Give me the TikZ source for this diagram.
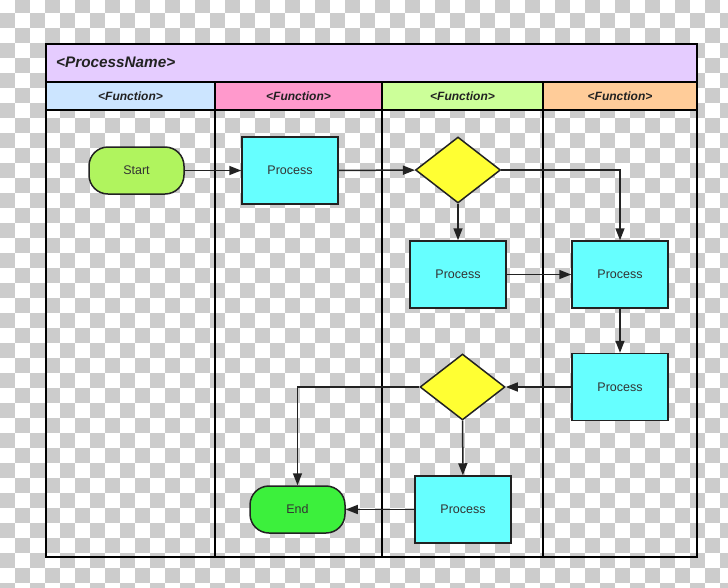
\documentclass[tikz,border=0pt]{standalone}
\usepackage{fontspec}
\setmainfont{Liberation Sans}
\usetikzlibrary{shapes.geometric,arrows.meta}
\definecolor{chk}{HTML}{CCCCCC}
\definecolor{lav}{HTML}{E5CCFF}
\definecolor{hblue}{HTML}{CCE5FF}
\definecolor{hpink}{HTML}{FF99CC}
\definecolor{hgreen}{HTML}{CCFF99}
\definecolor{hpeach}{HTML}{FFCC99}
\definecolor{startc}{HTML}{B0F45E}
\definecolor{procc}{HTML}{66FFFF}
\definecolor{decc}{HTML}{FFFF33}
\definecolor{endc}{HTML}{3CF03C}
\definecolor{ink}{HTML}{222222}
\definecolor{txt}{HTML}{333333}
\tikzset{
  framel/.style={draw=black,line width=1.8pt},
  lanel/.style={draw=black,line width=1.4pt},
  titletxt/.style={font=\bfseries\itshape\fontsize{15.3}{17}\selectfont,text=ink,inner sep=0pt},
  functxt/.style={font=\bfseries\itshape\fontsize{12}{14}\selectfont,text=ink,inner sep=0pt},
  procbox/.style={rectangle,draw=ink,line width=1.5pt,fill=procc,minimum width=96pt,minimum height=67pt,inner sep=0pt,font=\fontsize{12.5}{14}\selectfont,text=txt},
  decbox/.style={diamond,draw=ink,line width=1.5pt,fill=decc,minimum width=85pt,minimum height=66pt,inner sep=0pt},
  termbox/.style={rectangle,rounded corners=19pt,draw=ink,line width=1.5pt,minimum width=95pt,minimum height=47pt,inner sep=0pt,font=\fontsize{12.5}{14}\selectfont,text=txt},
  conn/.style={draw=ink,line width=1.5pt,-{Triangle[length=12pt,width=9pt]}}
}
\begin{document}
\begin{tikzpicture}[x=1pt,y=-1pt]
\useasboundingbox (0,0) rectangle (728,587);
\fill[white] (0,0) rectangle (728,587);
\begin{scope}
\clip (0,0) rectangle (728,587);
\foreach \i in {0,...,48}{
  \foreach \k in {0,...,39}{
    \pgfmathtruncatemacro{\pp}{mod(\i+\k,2)}
    \ifnum\pp=1 \fill[chk] (15*\i,15*\k-2) rectangle ++(15,15); \fi
  }
}
\end{scope}
% title and header fills
\fill[lav] (46,44) rectangle (697,82);
\fill[hblue] (46,82) rectangle (215,110);
\fill[hpink] (215,82) rectangle (382,110);
\fill[hgreen] (382,82) rectangle (543,110);
\fill[hpeach] (543,82) rectangle (697,110);
% lane lines
\draw[lanel] (46,82) -- (697,82);
\draw[lanel] (46,110) -- (697,110);
\draw[lanel] (215,82) -- (215,557);
\draw[lanel] (382,82) -- (382,557);
\draw[lanel] (543,82) -- (543,557);
\draw[framel] (46,44) rectangle (697,557);
% texts
\node[titletxt,anchor=west] (pname) at (56,62) {<ProcessName>};
\node[functxt] (f1) at (130.5,96) {<Function>};
\node[functxt] (f2) at (298.5,96) {<Function>};
\node[functxt] (f3) at (462.5,96) {<Function>};
\node[functxt] (f4) at (620,96) {<Function>};
% nodes
\node[termbox,fill=startc] (start) at (136.5,170.5) {Start};
\node[procbox] (p1) at (290,170.5) {Process};
\node[decbox] (d1) at (458,170) {};
\node[procbox] (p2) at (458,274.5) {Process};
\node[procbox] (p3) at (620,274.5) {Process};
\node[procbox] (p4) at (620,387) {Process};
\node[decbox] (d2) at (462.5,387) {};
\node[procbox] (p5) at (463,509.5) {Process};
\node[termbox,fill=endc] (endn) at (297.5,509.5) {End};
% connectors
\draw[conn] (start) -- (p1);
\draw[conn] (p1) -- (d1);
\draw[conn] (d1) -- (p2);
\draw[conn] (d1.east) -| (p3.north);
\draw[conn] (p2) -- (p3);
\draw[conn] (p3) -- (p4);
\draw[conn] (p4) -- (d2);
\draw[conn] (d2) -- (p5);
\draw[conn] (d2.west) -| (endn.north);
\draw[conn] (p5) -- (endn);
\end{tikzpicture}
\end{document}
